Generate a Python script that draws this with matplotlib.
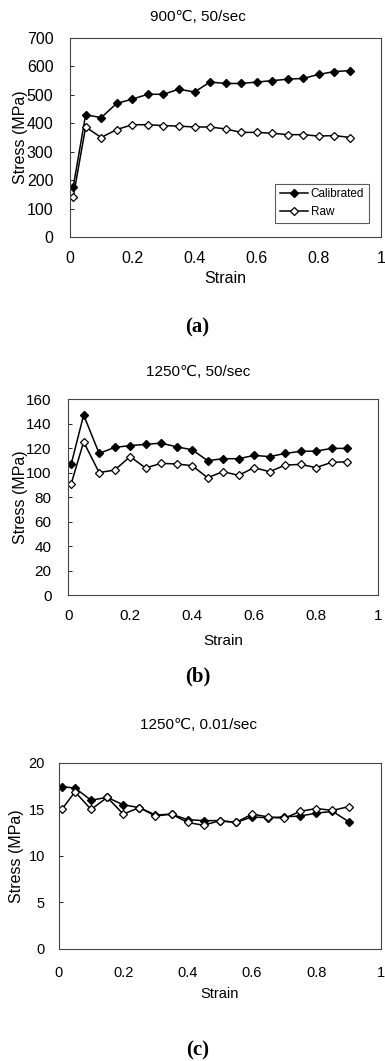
from matplotlib import pyplot as plt

# strain values shared by all three tests
strain = [0.01, 0.05, 0.10, 0.15, 0.20, 0.25, 0.30, 0.35, 0.40, 0.45,
          0.50, 0.55, 0.60, 0.65, 0.70, 0.75, 0.80, 0.85, 0.90]

# (a) 900C, 50/sec
calib_a = [175, 430, 420, 470, 485, 502, 502, 520, 510, 545,
           540, 540, 545, 550, 555, 558, 572, 582, 585]
raw_a = [140, 387, 350, 378, 395, 395, 392, 390, 387, 387,
         380, 368, 368, 365, 360, 360, 355, 357, 350]

# (b) 1250C, 50/sec
calib_b = [107, 147, 115.6, 120.5, 122, 123, 124, 121, 118.6, 109.7,
           111.3, 111.3, 114, 113, 115.6, 117.3, 117.5, 119.7, 119.7]
raw_b = [91, 125, 100, 102, 113, 103.7, 107.5, 107, 105.6, 95.8,
         100.7, 97.7, 104, 100.7, 106, 106.7, 104, 108.3, 108.8]

# (c) 1250C, 0.01/sec
calib_c = [17.45, 17.3, 16.0, 16.3, 15.5, 15.2, 14.4, 14.5, 13.9, 13.8,
           13.8, 13.6, 14.2, 14.1, 14.2, 14.3, 14.6, 14.8, 13.7]
raw_c = [15.05, 16.9, 15.0, 16.3, 14.5, 15.2, 14.3, 14.5, 13.6, 13.3,
         13.8, 13.6, 14.5, 14.2, 14.05, 14.8, 15.1, 14.9, 15.3]

titles = ["900\u2103, 50/sec", "1250\u2103, 50/sec", "1250\u2103, 0.01/sec"]
panel_labels = ["(a)", "(b)", "(c)"]
y_maxes = [700, 160, 20]
y_steps = [100, 20, 5]
x_ticks = [0, 0.2, 0.4, 0.6, 0.8, 1]
x_tick_labels = ["0", "0.2", "0.4", "0.6", "0.8", "1"]

SANS = ["Liberation Sans", "DejaVu Sans"]
SERIF = ["Liberation Serif", "DejaVu Serif"]


def draw_panel(fig, rect, calib, raw, title, label, y_max, y_step,
               tick_size, label_size, title_y, label_y, x_pad, x_labelpad,
               y_pad, ylabel_x, legend=False):
    """
    Draw one stress-strain panel with calibrated and raw curves
    """
    ax = fig.add_axes(rect)
    ax.plot(strain, calib, color="black", lw=1.1, marker="D", ms=4.5,
            mfc="black", mec="black", label="Calibrated")
    ax.plot(strain, raw, color="black", lw=1.1, marker="D", ms=4.5,
            mfc="white", mec="black", mew=0.9, label="Raw")

    ax.set_xlim(0, 1)
    ax.set_ylim(0, y_max)
    ax.set_xticks(x_ticks)
    ax.set_xticklabels(x_tick_labels, family=SANS, fontsize=tick_size)
    y_ticks = list(range(0, y_max + 1, y_step))
    ax.set_yticks(y_ticks)
    ax.set_yticklabels([str(v) for v in y_ticks], family=SANS, fontsize=tick_size)
    ax.tick_params(axis="y", direction="in", length=3, width=0.6, pad=y_pad)
    ax.tick_params(axis="x", length=0, pad=x_pad)

    ax.set_xlabel("Strain", family=SANS, fontsize=label_size, labelpad=x_labelpad)
    ax.set_ylabel("Stress (MPa)", family=SANS, fontsize=11.5)
    ax.yaxis.set_label_coords(ylabel_x, 0.5)

    for spine in ax.spines.values():
        spine.set_linewidth(0.8)
        spine.set_color("#444444")

    if legend:
        leg = ax.legend(loc="lower right", bbox_to_anchor=(0.96, 0.07),
                        prop={"family": SANS, "size": 8.5}, frameon=True,
                        fancybox=False, borderpad=0.4, handlelength=2.4,
                        handletextpad=0.2, labelspacing=0.5, borderaxespad=0)
        leg.get_frame().set_edgecolor("#333333")
        leg.get_frame().set_linewidth(0.8)

    # panel title and the label under it
    fig.text(0.515, title_y, title, family=SANS, fontsize=11,
             ha="center", va="center")
    fig.text(0.513, label_y, label, family=SERIF, fontsize=15,
             fontweight="bold", ha="center", va="center")
    return ax


# create a figure
fig = plt.figure(figsize=(3.85, 10.61), dpi=100)
fig.patch.set_facecolor("white")

draw_panel(fig, [0.182, 0.7766, 0.808, 0.1876], calib_a, raw_a,
           titles[0], panel_labels[0], y_maxes[0], y_steps[0],
           11.5, 11.5, 0.984, 0.6913, 10, 4, 12, -0.135, legend=True)
draw_panel(fig, [0.177, 0.4392, 0.805, 0.1847], calib_b, raw_b,
           titles[1], panel_labels[1], y_maxes[1], y_steps[1],
           11, 11, 0.649, 0.362, 10, 8, 12, -0.131)
draw_panel(fig, [0.153, 0.1056, 0.836, 0.1753], calib_c, raw_c,
           titles[2], panel_labels[2], y_maxes[2], y_steps[2],
           10.5, 10.5, 0.3167, 0.0095, 12, 5, 10, -0.109)

# save the figure
fig.savefig("out.png", dpi=100)
